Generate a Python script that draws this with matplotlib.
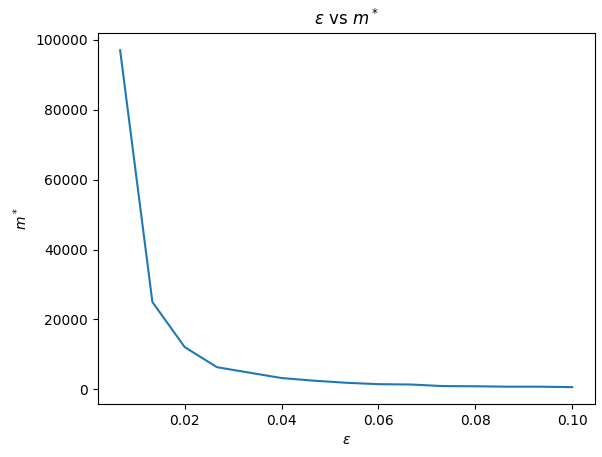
import matplotlib
matplotlib.use('Agg')
import matplotlib.pyplot as plt

# epsilon values and corresponding m*
eps = [0.00667, 0.01333, 0.02, 0.02667, 0.03333, 0.04, 0.04667, 0.05333,
       0.06, 0.06667, 0.07333, 0.08, 0.08667, 0.09333, 0.1]
m_star = [97000, 25000, 12100, 6350, 4800, 3250, 2500, 1900,
          1500, 1400, 950, 900, 780, 780, 650]

fig, ax = plt.subplots(figsize=(6.02, 4.57), dpi=100)
ax.plot(eps, m_star)
ax.set_title(r'$\epsilon$ vs $m^*$')
ax.set_xlabel(r'$\epsilon$')
ax.set_ylabel(r'$m^*$')

plt.subplots_adjust(left=0.162, right=0.988, top=0.927, bottom=0.116)
plt.savefig('out.png')
